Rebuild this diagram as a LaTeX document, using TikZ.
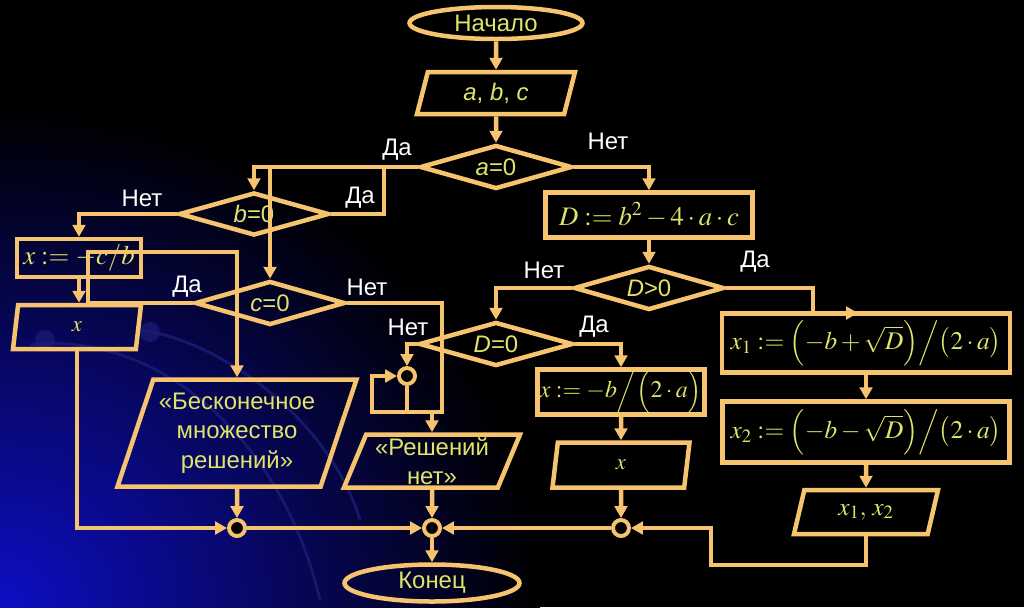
\documentclass[tikz,border=0pt]{standalone}
\usepackage{mathptmx}
\usepackage[no-math]{fontspec}
\setmainfont{Liberation Sans}
\usetikzlibrary{arrows.meta,shapes.geometric}
\definecolor{flowOrange}{HTML}{F6C36E}
\definecolor{flowYellow}{HTML}{E0E46A}
\definecolor{glowBlue}{HTML}{0E0EC4}
\definecolor{arcBlue}{HTML}{1C1C78}
\newlength\pxu
\setlength\pxu{0.025cm}
\tikzset{
  linia/.style={draw=flowOrange, line width=3.2pt},
  termin/.style={linia, ellipse, text=flowYellow, font=\fontsize{17}{20}\selectfont, inner sep=0pt},
  vvod/.style={linia, trapezium, trapezium stretches body, text=flowYellow, align=center, inner sep=0pt, font=\fontsize{17}{21}\selectfont},
  uslovie/.style={linia, diamond, aspect=3.4, text=flowYellow, inner sep=0pt, font=\fontsize{17}{20}\selectfont},
  deistvie/.style={linia, rectangle, text=flowYellow, inner sep=0pt, font=\fontsize{19}{22}\selectfont},
  uzel/.style={linia, circle, fill=black, line width=2.8pt, minimum size=16\pxu, inner sep=0pt},
  arrpot/.style={linia, -{Triangle[length=8.5pt,width=9pt]}},
  metka/.style={text=white, inner sep=0pt, font=\fontsize{17}{20}\selectfont},
}
\begin{document}
\begin{tikzpicture}[x=0.025cm, y=-0.025cm]
% background
\fill[black] (0,0) rectangle (1024,607);
\useasboundingbox (0,0) rectangle (1024,607);
\begin{scope}
\clip (0,0) rectangle (1024,607);
\shade[inner color=glowBlue, outer color=black] (0,607) ellipse (540 and 500);
\draw[arcBlue, line width=2pt, opacity=.8] (30,345) .. controls (150,330) and (280,430) .. (320,600);
\draw[arcBlue, line width=2pt, opacity=.8] (140,330) .. controls (220,340) and (330,420) .. (360,520);
\fill[arcBlue, opacity=.7] (45,340) circle (10);
\fill[arcBlue, opacity=.7] (150,332) circle (10);
\end{scope}

% blocks
\node[termin, minimum width=173\pxu, minimum height=32\pxu] (start) at (496,23) {Начало};
\node[vvod, trapezium left angle=62, trapezium right angle=118, minimum width=158\pxu, minimum height=42\pxu] (inp) at (496,93) {\textit{a}, \textit{b}, \textit{c}};
\node[uslovie, minimum width=152\pxu, minimum height=44\pxu] (a0) at (496,167) {\textit{a}=0};
\node[uslovie, minimum width=150\pxu, minimum height=43\pxu] (b0) at (254,214) {\textit{b}=0};
\node[uslovie, minimum width=150\pxu, minimum height=44\pxu] (c0) at (270,303) {\textit{c}=0};
\node[deistvie, minimum width=124\pxu, minimum height=38\pxu] (xcb) at (79,258) {$x:=-c/b$};
\node[vvod, trapezium left angle=63, trapezium right angle=117, minimum width=128\pxu, minimum height=44\pxu] (xout1) at (77,327) {\fontsize{16}{18}\selectfont$x$};
\node[vvod, trapezium left angle=66, trapezium right angle=114, minimum width=239\pxu, minimum height=107\pxu] (inf) at (237,433) {«Бесконечное\\множество\\решений»};
\node[uzel] (j1) at (407,376) {};
\node[vvod, trapezium left angle=65, trapezium right angle=115, minimum width=176\pxu, minimum height=53\pxu] (nores) at (432,461) {«Решений\\нет»};
\node[deistvie, minimum width=207\pxu, minimum height=45\pxu] (Dbox) at (649,215) {$D:=b^2-4\cdot a\cdot c$};
\node[uslovie, minimum width=150\pxu, minimum height=44\pxu] (Dgt) at (649,288) {\textit{D}>0};
\node[uslovie, minimum width=154\pxu, minimum height=44\pxu] (D0) at (496,344) {\textit{D}=0};
\node[deistvie, minimum width=167\pxu, minimum height=45\pxu, font=\fontsize{17}{22}\selectfont] (xb) at (621,392) {$x:=-b\Big/\Bigl(2\cdot a\Bigr)$};
\node[vvod, trapezium left angle=62, trapezium right angle=118, minimum width=137\pxu, minimum height=45\pxu] (xout2) at (621,465) {\fontsize{16}{18}\selectfont$x$};
\node[deistvie, minimum width=288\pxu, minimum height=59\pxu, font=\fontsize{18}{22}\selectfont] (x1box) at (866,343) {$x_1:=\Bigl(-b+\sqrt{D}\Bigr)\Big/\bigl(2\cdot a\bigr)$};
\node[deistvie, minimum width=287\pxu, minimum height=61\pxu, font=\fontsize{18}{22}\selectfont] (x2box) at (866,432) {$x_2:=\Bigl(-b-\sqrt{D}\Bigr)\Big/\bigl(2\cdot a\bigr)$};
\node[vvod, trapezium left angle=57, trapezium right angle=123, minimum width=144\pxu, minimum height=44\pxu] (xout3) at (866,512) {\fontsize{18}{20}\selectfont$x_1,\,x_2$};
\node[uzel] (j2) at (237,528) {};
\node[uzel] (j3) at (432,528) {};
\node[uzel] (j4) at (621,528) {};
\node[termin, minimum width=175\pxu, minimum height=37\pxu] (stop) at (432,583) {Конец};

% branch labels
\node[metka] (daA) at (397,150) {Да};
\node[metka] (netA) at (608,141) {Нет};
\node[metka] (netB) at (142,198) {Нет};
\node[metka] (daB) at (360,198) {Да};
\node[metka] (daC) at (187,287) {Да};
\node[metka] (netC) at (367,287) {Нет};
\node[metka] (netG) at (544,270) {Нет};
\node[metka] (daG) at (755,262) {Да};
\node[metka] (netZ) at (408,327) {Нет};
\node[metka] (daZ) at (594,327) {Да};

% bend points
\coordinate (rb) at (384,167);
\coordinate (tc) at (270,167);
\coordinate (ca) at (88,252);
\coordinate (cn) at (442,412);
\coordinate (cm) at (372,412);
\coordinate (dy) at (813,313);
\coordinate (dz) at (858,313);
\coordinate (ra) at (711,565);

% connectors
\draw[arrpot] (start) -- (inp);
\draw[arrpot] (inp) -- (a0);
\draw[arrpot] (a0.west) -| (b0.north);
\draw[arrpot] (b0.east) -| (rb) -- (tc) -- (c0.north);
\draw[arrpot] (b0.west) -| (xcb.north);
\draw[arrpot] (xcb.south) -- (xcb.south |- xout1.north);
\draw[arrpot] (c0.west) -| (ca) -| (inf.north);
\draw[arrpot] (c0.east) -| (cn) -- (cm) |- (j1.west);
\draw[arrpot] (D0.west) -| (j1.north);
\draw[linia] (j1.south) -- (j1.south |- cn);
\draw[arrpot] (nores.north |- cn) -- (nores.north);
\draw[arrpot] (xout1.south) |- (j2.west);
\draw[arrpot] (inf) -- (j2);
\draw[arrpot] (j2) -- (j3);
\draw[arrpot] (nores) -- (j3);
\draw[arrpot] (j4) -- (j3);
\draw[arrpot] (j3) -- (stop);
\draw[arrpot] (a0.east) -| (Dbox.north);
\draw[arrpot] (Dbox) -- (Dgt);
\draw[arrpot] (Dgt.west) -| (D0.north);
\draw[arrpot] (Dgt.east) -| (dy) -- (dz);
\draw[arrpot] (D0.east) -| (xb.north);
\draw[arrpot] (xb) -- (xout2);
\draw[arrpot] (xout2) -- (j4);
\draw[arrpot] (x1box) -- (x2box);
\draw[arrpot] (x2box) -- (xout3);
\draw[arrpot] (xout3.south) |- (ra) |- (j4.east);
\end{tikzpicture}
\end{document}
